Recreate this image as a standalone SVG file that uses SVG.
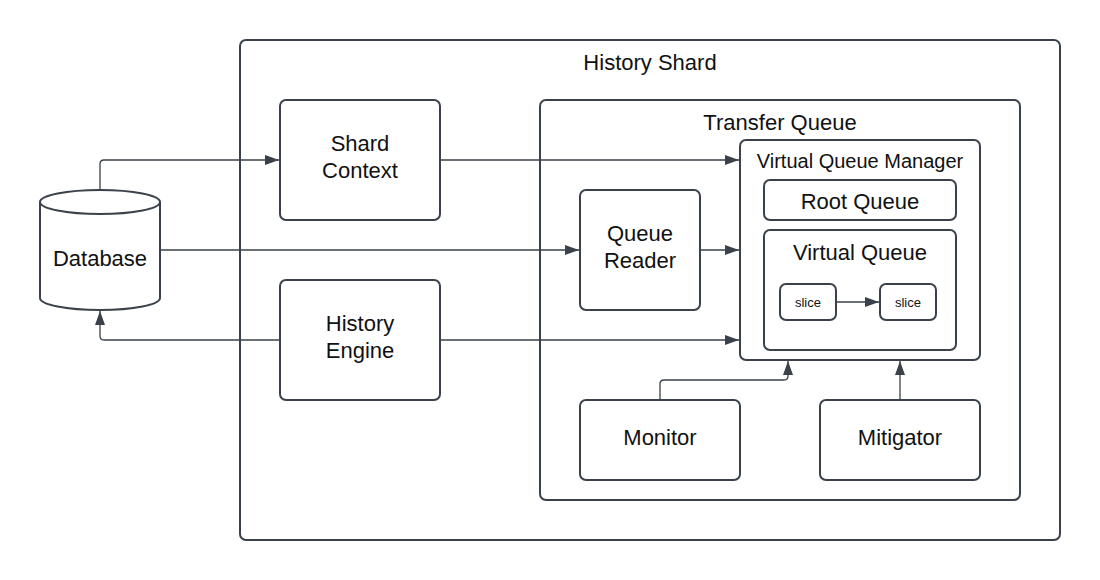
<svg xmlns="http://www.w3.org/2000/svg" width="1100" height="580" viewBox="0 0 1100 580">
<defs>
<style>
.box{fill:#ffffff;stroke:#3a414a;stroke-width:2}
.line{fill:none;stroke:#3a414a;stroke-width:1.3}
.t{font-family:"Liberation Sans",Arial,sans-serif;font-size:22px;fill:#111111;text-anchor:middle}
.t20{font-family:"Liberation Sans",Arial,sans-serif;font-size:20px;fill:#111111;text-anchor:middle}
.ts{font-family:"Liberation Sans",Arial,sans-serif;font-size:13px;fill:#111111;text-anchor:middle}
</style>
<marker id="arr" markerUnits="userSpaceOnUse" markerWidth="14" markerHeight="10" refX="14" refY="5" orient="auto">
<path d="M0,0 L14,5 L0,10 z" fill="#3a414a"/>
</marker>
</defs>
<rect width="1100" height="580" fill="#ffffff"/>
<g id="history-shard">
<rect class="box" x="240" y="40" width="820" height="500" rx="6"/>
<text class="t" x="650" y="70">History Shard</text>
</g>
<g id="transfer-queue">
<rect class="box" x="540" y="100" width="480" height="400" rx="6"/>
<text class="t" x="780" y="130">Transfer Queue</text>
</g>
<g id="database">
<path class="box" d="M40,202 L40,298 A60,12 0 0 0 160,298 L160,202 A60,12 0 0 0 40,202 Z"/>
<path class="box" d="M40,202 A60,12 0 0 0 160,202" fill="none"/>
<text class="t" x="100" y="266">Database</text>
</g>
<g id="shard-context">
<rect class="box" x="280" y="100" width="160" height="120" rx="6"/>
<text class="t" x="360" y="151">Shard</text>
<text class="t" x="360" y="178">Context</text>
</g>
<g id="history-engine">
<rect class="box" x="280" y="280" width="160" height="120" rx="6"/>
<text class="t" x="360" y="331">History</text>
<text class="t" x="360" y="358">Engine</text>
</g>
<g id="queue-reader">
<rect class="box" x="580" y="190" width="120" height="120" rx="6"/>
<text class="t" x="640" y="241">Queue</text>
<text class="t" x="640" y="268">Reader</text>
</g>
<g id="virtual-queue-manager">
<rect class="box" x="740" y="140" width="240" height="220" rx="6"/>
<text class="t20" x="860" y="168">Virtual Queue Manager</text>
</g>
<g id="root-queue">
<rect class="box" x="764" y="180" width="192" height="40" rx="6"/>
<text class="t" x="860" y="209">Root Queue</text>
</g>
<g id="virtual-queue">
<rect class="box" x="764" y="230" width="192" height="120" rx="6"/>
<text class="t" x="860" y="260">Virtual Queue</text>
</g>
<g id="slice-1">
<rect class="box" x="780" y="284" width="56" height="36" rx="6"/>
<text class="ts" x="808" y="306.5">slice</text>
</g>
<g id="slice-2">
<rect class="box" x="880" y="284" width="56" height="36" rx="6"/>
<text class="ts" x="908" y="306.5">slice</text>
</g>
<g id="monitor">
<rect class="box" x="580" y="400" width="160" height="80" rx="6"/>
<text class="t" x="660" y="445">Monitor</text>
</g>
<g id="mitigator">
<rect class="box" x="820" y="400" width="160" height="80" rx="6"/>
<text class="t" x="900" y="445">Mitigator</text>
</g>
<g id="connectors">
<path class="line" d="M100,190 L100,164 Q100,160 104,160 L279,160" marker-end="url(#arr)"/>
<path class="line" d="M160,250 L579,250" marker-end="url(#arr)"/>
<path class="line" d="M280,340 L104,340 Q100,340 100,336 L100,311" marker-end="url(#arr)"/>
<path class="line" d="M440,160 L739,160" marker-end="url(#arr)"/>
<path class="line" d="M700,250 L739,250" marker-end="url(#arr)"/>
<path class="line" d="M440,340 L739,340" marker-end="url(#arr)"/>
<path class="line" d="M836,302 L879,302" marker-end="url(#arr)"/>
<path class="line" d="M660,400 L660,384 Q660,380 664,380 L784,380 Q788,380 788,376 L788,361" marker-end="url(#arr)"/>
<path class="line" d="M900,400 L900,361" marker-end="url(#arr)"/>
</g>
</svg>
